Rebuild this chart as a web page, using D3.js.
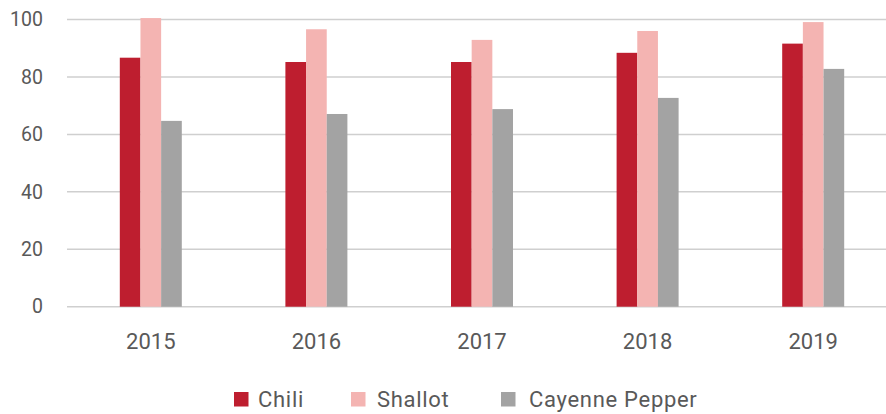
<!DOCTYPE html>
<html>
<head>
<meta charset="utf-8">
<script src="https://cdn.jsdelivr.net/npm/d3@7"></script>
<style>
  body { margin: 0; background: #fff; }
  text { font-family: Roboto, "Noto Sans", sans-serif; fill: #595959; }
</style>
</head>
<body>
<div id="chart"></div>
<script>
var years = ["2015", "2016", "2017", "2018", "2019"]
var series = ["Chili", "Shallot", "Cayenne Pepper"]
var chili = [86.7, 85.2, 85.2, 88.4, 91.6]
var shallot = [100.5, 96.6, 92.9, 96.0, 99.1]
var cayenne = [64.7, 67.1, 68.8, 72.7, 82.8]
var yTicks = [0, 20, 40, 60, 80, 100]
var colors = ["#be1e2f", "#f4b4b2", "#a3a3a3"]

var width = 886, height = 414
var values = [chili, shallot, cayenne]

var svg = d3.select("#chart").append("svg")
    .attr("width", width)
    .attr("height", height)

var x = d3.scaleBand()
    .domain(years)
    .range([68, 896])

var inner = d3.scaleBand()
    .domain(series)
    .range([0, 62])

var y = d3.scaleLinear()
    .domain([0, 100])
    .range([306.7, 19.5])

// gridlines
svg.append("g").selectAll("line")
    .data(yTicks).enter()
    .append("line")
    .attr("x1", 67)
    .attr("x2", width)
    .attr("y1", function(d){ return y(d) })
    .attr("y2", function(d){ return y(d) })
    .attr("stroke", "#cfcfcf")
    .attr("stroke-width", 1.5)

// y labels
var yAxis = svg.append("g")
    .attr("transform", "translate(43,0)")
    .call(d3.axisLeft(y).tickValues(yTicks).tickSize(0).tickPadding(0))
yAxis.select(".domain").remove()
yAxis.selectAll("text")
    .attr("font-size", 19.5)
    .attr("fill", "#595959")
    .style("font-family", "Roboto, sans-serif")

// x labels
var xAxis = svg.append("g")
    .attr("transform", "translate(0,333)")
    .call(d3.axisBottom(x).tickSize(0).tickPadding(0))
xAxis.select(".domain").remove()
xAxis.selectAll("text")
    .attr("dy", "0.71em")
    .attr("font-size", 22)
    .attr("fill", "#595959")
    .style("font-family", "Roboto, sans-serif")

// bars
var groups = svg.append("g").selectAll("g")
    .data(years).enter()
    .append("g")
    .attr("transform", function(d){
        return "translate(" + (x(d) + x.bandwidth() / 2 - 31) + ",0)"
    })

groups.selectAll("rect")
    .data(function(d, i){
        return series.map(function(s, j){ return {s: s, v: values[j][i], c: colors[j]} })
    }).enter()
    .append("rect")
    .attr("x", function(d){ return inner(d.s) })
    .attr("width", inner.bandwidth())
    .attr("y", function(d){ return y(d.v) })
    .attr("height", function(d){ return y(0) - y(d.v) })
    .attr("fill", function(d){ return d.c })

// legend
var legendBox = [234, 351, 501]
var legendText = [258, 377, 529]
var legend = svg.append("g").selectAll("g")
    .data(series).enter()
    .append("g")

legend.append("rect")
    .attr("x", function(d, i){ return legendBox[i] })
    .attr("y", 392)
    .attr("width", 14.5)
    .attr("height", 14.5)
    .attr("fill", function(d, i){ return colors[i] })

legend.append("text")
    .attr("x", function(d, i){ return legendText[i] })
    .attr("y", 407)
    .attr("font-size", 22)
    .attr("letter-spacing", 0.7)
    .text(function(d){ return d })
</script>
</body>
</html>
